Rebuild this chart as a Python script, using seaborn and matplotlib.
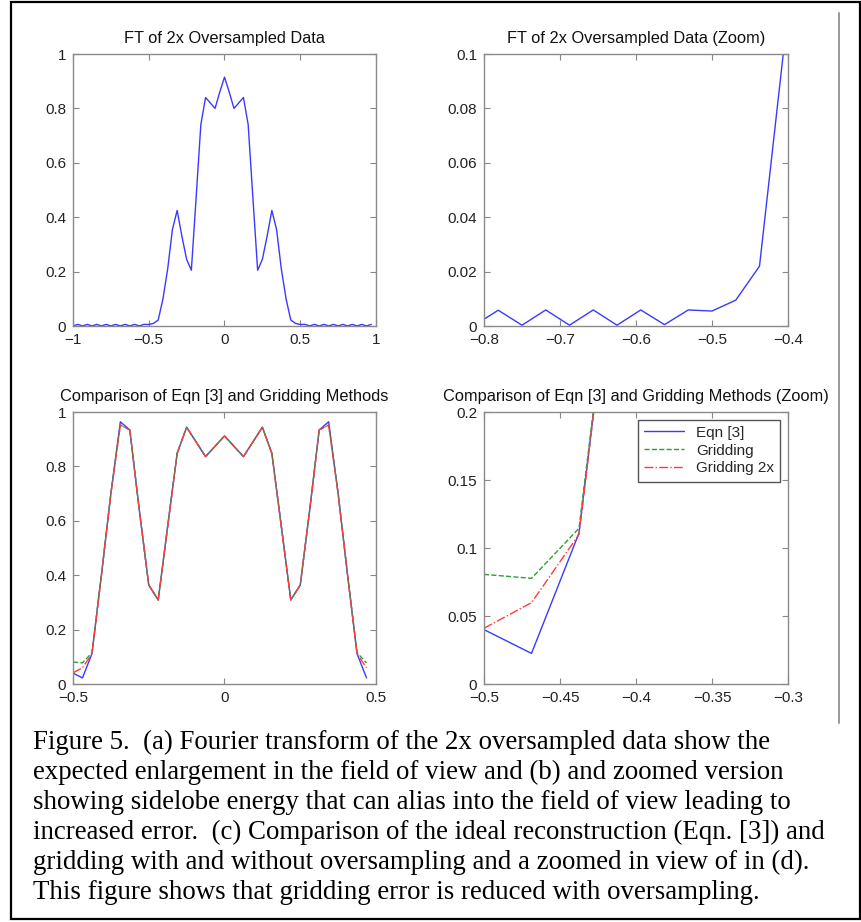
import numpy as np
import pandas as pd
import seaborn as sns
import matplotlib.pyplot as plt
from matplotlib.ticker import FuncFormatter
from matplotlib.patches import Rectangle
from matplotlib.lines import Line2D

sns.set_theme(style="ticks")
plt.rcParams['font.family'] = ['Liberation Sans', 'DejaVu Sans']

# FT of the 2x oversampled data, samples at k/32, k = -32..31
freq_2x = np.arange(-32, 32) / 32
ft_2x = [0.0003, 0.0058, 0.0003, 0.0058, 0.0003, 0.0058, 0.0003, 0.0058,
         0.0003, 0.0059, 0.0003, 0.0059, 0.0003, 0.0059, 0.0005, 0.0059,
         0.0055, 0.0095, 0.022, 0.10, 0.21, 0.355, 0.425, 0.33,
         0.245, 0.205, 0.47, 0.74, 0.84, 0.82, 0.80, 0.86,
         0.915, 0.86, 0.80, 0.82, 0.84, 0.74, 0.47, 0.205,
         0.245, 0.33, 0.425, 0.355, 0.21, 0.10, 0.022, 0.0095,
         0.0055, 0.0059, 0.0005, 0.0059, 0.0003, 0.0059, 0.0003, 0.0059,
         0.0003, 0.0058, 0.0003, 0.0058, 0.0003, 0.0058, 0.0003, 0.0058]

# reconstructions, samples at k/32, k = -16..15
pos = np.arange(-16, 16) / 32
eqn3 = [0.040, 0.0225, 0.111, 0.40, 0.70, 0.964, 0.934, 0.64,
        0.364, 0.309, 0.58, 0.848, 0.944, 0.89, 0.836, 0.874,
        0.912, 0.874, 0.836, 0.89, 0.944, 0.848, 0.58, 0.309,
        0.364, 0.64, 0.934, 0.964, 0.70, 0.40, 0.111, 0.0225]
gridding = [0.0806, 0.0777, 0.1145, 0.40, 0.70, 0.952, 0.934, 0.64,
            0.364, 0.309, 0.58, 0.848, 0.944, 0.89, 0.836, 0.874,
            0.912, 0.874, 0.836, 0.89, 0.944, 0.848, 0.58, 0.309,
            0.364, 0.64, 0.934, 0.952, 0.70, 0.40, 0.1145, 0.0777]
gridding_2x = [0.041, 0.0598, 0.110, 0.40, 0.70, 0.952, 0.934, 0.64,
               0.364, 0.309, 0.58, 0.848, 0.944, 0.89, 0.836, 0.874,
               0.912, 0.874, 0.836, 0.89, 0.944, 0.848, 0.58, 0.309,
               0.364, 0.64, 0.934, 0.952, 0.70, 0.40, 0.110, 0.0598]

titles = ["FT of 2x Oversampled Data",
          "FT of 2x Oversampled Data (Zoom)",
          "Comparison of Eqn [3] and Gridding Methods",
          "Comparison of Eqn [3] and Gridding Methods (Zoom)"]
legend_labels = ["Eqn [3]", "Gridding", "Gridding 2x"]

caption = ["Figure 5.  (a) Fourier transform of the 2x oversampled data show the",
           "expected enlargement in the field of view and (b) and zoomed version",
           "showing sidelobe energy that can alias into the field of view leading to",
           "increased error.  (c) Comparison of the ideal reconstruction (Eqn. [3]) and",
           "gridding with and without oversampling and a zoomed in view of in (d).",
           "This figure shows that gridding error is reduced with oversampling."]

BLUE = '#3a3aff'
GREEN = '#2f9e2f'
RED = '#ff3c3c'

W, H = 861, 922
fig = plt.figure(figsize=(W / 100, H / 100), dpi=100)


def px_axes(x0, y0, x1, y1):
    return fig.add_axes([x0 / W, 1 - y1 / H, (x1 - x0) / W, (y1 - y0) / H])


def fmt(v, _):
    s = f"{v:g}"
    return s.replace('-', '\u2212')


def style(ax, title, xlim, ylim, xticks, yticks):
    ax.set_xlim(*xlim)
    ax.set_ylim(*ylim)
    ax.set_xticks(xticks)
    ax.set_yticks(yticks)
    ax.xaxis.set_major_formatter(FuncFormatter(fmt))
    ax.yaxis.set_major_formatter(FuncFormatter(fmt))
    ax.tick_params(direction='in', top=True, right=True, length=4, width=0.8,
                   color='#888888', labelsize=11, labelcolor='#222222', pad=5)
    for sp in ax.spines.values():
        sp.set_visible(True)
        sp.set_color('#8a8a8a')
        sp.set_linewidth(1.0)
    ax.set_xlabel("")
    ax.set_ylabel("")
    ax.set_title(title, fontsize=11.8, color='#111111', pad=8)


top_df = pd.DataFrame({"freq": freq_2x, "ft": ft_2x})
rec_df = pd.DataFrame({"pos": pos, "eqn3": eqn3, "grid": gridding, "grid2x": gridding_2x})

ax1 = px_axes(73, 54, 376, 326)
sns.lineplot(data=top_df, x="freq", y="ft", ax=ax1, color=BLUE, linewidth=1.0)
style(ax1, titles[0], (-1, 1), (0, 1), [-1, -0.5, 0, 0.5, 1], np.arange(0, 1.01, 0.2))

ax2 = px_axes(484, 54, 788, 326)
sns.lineplot(data=top_df, x="freq", y="ft", ax=ax2, color=BLUE, linewidth=1.0)
style(ax2, titles[1], (-0.8, -0.4), (0, 0.1), np.arange(-0.8, -0.39, 0.1), np.arange(0, 0.101, 0.02))

for rect, lim in [((73, 412, 376, 684), None), ((484, 412, 788, 684), 'zoom')]:
    ax = px_axes(*rect)
    sns.lineplot(data=rec_df, x="pos", y="eqn3", ax=ax, color=BLUE, linewidth=1.0,
                 label=legend_labels[0])
    sns.lineplot(data=rec_df, x="pos", y="grid", ax=ax, color=GREEN, linewidth=1.0,
                 linestyle='--', label=legend_labels[1])
    sns.lineplot(data=rec_df, x="pos", y="grid2x", ax=ax, color=RED, linewidth=1.0,
                 linestyle='-.', label=legend_labels[2])
    if lim is None:
        ax.get_legend().remove()
        style(ax, titles[2], (-0.5, 0.5), (0, 1), [-0.5, 0, 0.5], np.arange(0, 1.01, 0.2))
    else:
        style(ax, titles[3], (-0.5, -0.3), (0, 0.2), np.arange(-0.5, -0.299, 0.05),
              np.arange(0, 0.201, 0.05))
        leg = ax.legend(loc='upper right', fontsize=11, frameon=True, fancybox=False,
                        framealpha=1, edgecolor='#555555', borderaxespad=0.5,
                        handlelength=2.6, labelspacing=0.25, borderpad=0.4)
        leg.get_frame().set_linewidth(1.0)

# caption
for i, line in enumerate(caption):
    fig.text(33 / W, 1 - (749 + 30 * i) / H, line, family=['Liberation Serif', 'DejaVu Serif'],
             fontsize=19.4, color='black', va='baseline', ha='left')

# outer frame and the gray rule on the right
fig.patches.append(Rectangle((11 / W, 3 / H), (860 - 11) / W, (920 - 3) / H,
                             transform=fig.transFigure, fill=False, edgecolor='black',
                             linewidth=1.6))
fig.lines.append(Line2D([839 / W, 839 / W], [1 - 13 / H, 1 - 723 / H],
                        transform=fig.transFigure, color='#999999', linewidth=1.4))

fig.savefig("out.png", dpi=100, facecolor='white')
